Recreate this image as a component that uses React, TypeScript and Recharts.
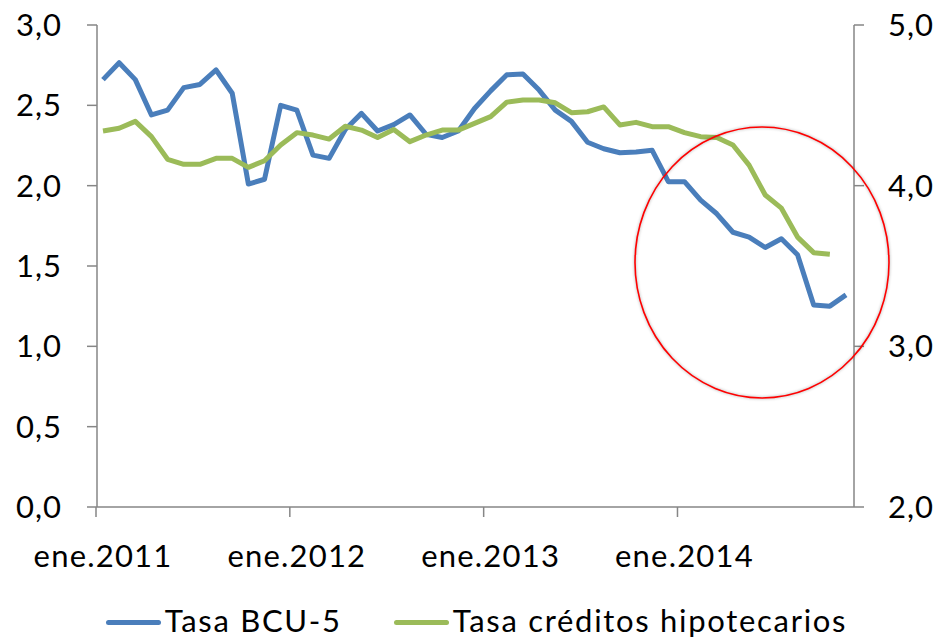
import React from 'react';
import { LineChart, Line, XAxis, YAxis, Legend } from 'recharts';

const monthNames = ['ene', 'feb', 'mar', 'abr', 'may', 'jun', 'jul', 'ago', 'sep', 'oct', 'nov', 'dic'];
const years = [2011, 2012, 2013, 2014];

// Tasa BCU-5 (eje izquierdo), ene.2011 - nov.2014
const tasaBcu5 = [
  2.66, 2.765, 2.66, 2.44, 2.47, 2.61, 2.63, 2.72, 2.575, 2.01, 2.04, 2.5,
  2.47, 2.19, 2.17, 2.35, 2.45, 2.34, 2.38, 2.44, 2.32, 2.3, 2.34, 2.48,
  2.59, 2.69, 2.695, 2.595, 2.47, 2.4, 2.27, 2.23, 2.205, 2.21, 2.22, 2.025,
  2.025, 1.91, 1.825, 1.71, 1.68, 1.615, 1.67, 1.57, 1.257, 1.25, 1.32,
];

// Tasa créditos hipotecarios (eje derecho)
const tasaHipotecarios = [
  4.34, 4.357, 4.4, 4.305, 4.164, 4.133, 4.133, 4.17, 4.17, 4.114, 4.155, 4.253,
  4.33, 4.315, 4.29, 4.37, 4.346, 4.3, 4.35, 4.274, 4.315, 4.346, 4.346, 4.388,
  4.43, 4.52, 4.533, 4.533, 4.516, 4.454, 4.46, 4.49, 4.378, 4.394, 4.367, 4.367,
  4.33, 4.305, 4.3, 4.253, 4.128, 3.942, 3.86, 3.68, 3.583, 3.573, null,
];

const leftTicks = [0, 0.5, 1, 1.5, 2, 2.5, 3];
const rightTicks = [2, 3, 4, 5];

const months = years.flatMap(y => monthNames.map(m => `${m}.${y}`)).slice(0, tasaBcu5.length);
const data = months.map((month, i) => ({ month, bcu: tasaBcu5[i], hip: tasaHipotecarios[i] }));

const BLUE = '#4a7ebb';
const GREEN = '#9bbb59';
const AXIS = '#868686';
const FONT = 'Lato, "Liberation Sans", sans-serif';

const fmt = (v: number) => v.toFixed(1).replace('.', ',');

const MonthTick = ({ x, y, payload }: any) => (
  <g>
    <line x1={x - 7} x2={x - 7} y1={y - 10} y2={y} stroke={AXIS} strokeWidth={1.5} />
    <text
      x={x}
      y={y + 50}
      textAnchor="middle"
      fontSize={31}
      letterSpacing={1.2}
      fill="#000"
      fontFamily={FONT}
    >
      {payload.value}
    </text>
  </g>
);

const legendItems = [
  { label: 'Tasa BCU-5', color: BLUE },
  { label: 'Tasa créditos hipotecarios', color: GREEN },
];

const renderLegend = () => (
  <div
    style={{
      display: 'flex',
      justifyContent: 'center',
      alignItems: 'center',
      height: 50,
      boxSizing: 'border-box',
      paddingTop: 8,
      paddingLeft: 11,
      gap: 52,
      fontFamily: FONT,
      fontSize: 31,
      lineHeight: '36px',
      letterSpacing: 1.7,
      color: '#000',
    }}
  >
    {legendItems.map(item => (
      <div key={item.label} style={{ display: 'flex', alignItems: 'center' }}>
        <span
          style={{
            display: 'inline-block',
            width: 55,
            height: 5,
            borderRadius: 3,
            background: item.color,
            marginRight: 4,
            marginTop: 4,
          }}
        />
        {item.label}
      </div>
    ))}
  </div>
);

export default function App() {
  return (
    <div style={{ position: 'absolute', left: 0, top: 0, width: 942, height: 641, background: '#fff' }}>
      <LineChart width={942} height={641} data={data} margin={{ top: 25, right: 0, bottom: 0, left: 0 }}>
        <XAxis
          dataKey="month"
          interval={11}
          padding={{ left: 6, right: 8 }}
          axisLine={{ stroke: AXIS, strokeWidth: 1.5 }}
          tickLine={false}
          tickSize={10}
          tickMargin={0}
          height={84}
          tick={<MonthTick />}
        />
        <YAxis
          yAxisId="left"
          domain={[0, 3]}
          ticks={leftTicks}
          tickFormatter={fmt}
          width={97}
          axisLine={{ stroke: AXIS, strokeWidth: 1.5 }}
          tickLine={{ stroke: AXIS, strokeWidth: 1.5 }}
          tickSize={10}
          tickMargin={25}
          tick={{ fill: '#000', fontSize: 31, fontFamily: FONT, letterSpacing: 1 }}
        />
        <YAxis
          yAxisId="right"
          orientation="right"
          domain={[2, 5]}
          ticks={rightTicks}
          tickFormatter={fmt}
          width={88}
          axisLine={{ stroke: AXIS, strokeWidth: 1.5 }}
          tickLine={{ stroke: AXIS, strokeWidth: 1.5 }}
          tickSize={10}
          tickMargin={24}
          tick={{ fill: '#000', fontSize: 31, fontFamily: FONT, letterSpacing: 1, textAnchor: 'start' }}
        />
        <Legend verticalAlign="bottom" content={renderLegend} />
        <Line
          yAxisId="left"
          dataKey="bcu"
          stroke={BLUE}
          strokeWidth={5}
          strokeLinejoin="round"
          dot={false}
          isAnimationActive={false}
        />
        <Line
          yAxisId="right"
          dataKey="hip"
          stroke={GREEN}
          strokeWidth={5}
          strokeLinejoin="round"
          dot={false}
          isAnimationActive={false}
        />
      </LineChart>
      <svg
        width={942}
        height={641}
        style={{ position: 'absolute', left: 0, top: 0, pointerEvents: 'none' }}
      >
        <ellipse
          cx={762}
          cy={262.5}
          rx={127}
          ry={135.5}
          fill="none"
          stroke="#ff0000"
          strokeWidth={1.6}
          style={{ filter: 'drop-shadow(0 0 1.5px rgba(0,0,0,0.35))' }}
        />
      </svg>
    </div>
  );
}
